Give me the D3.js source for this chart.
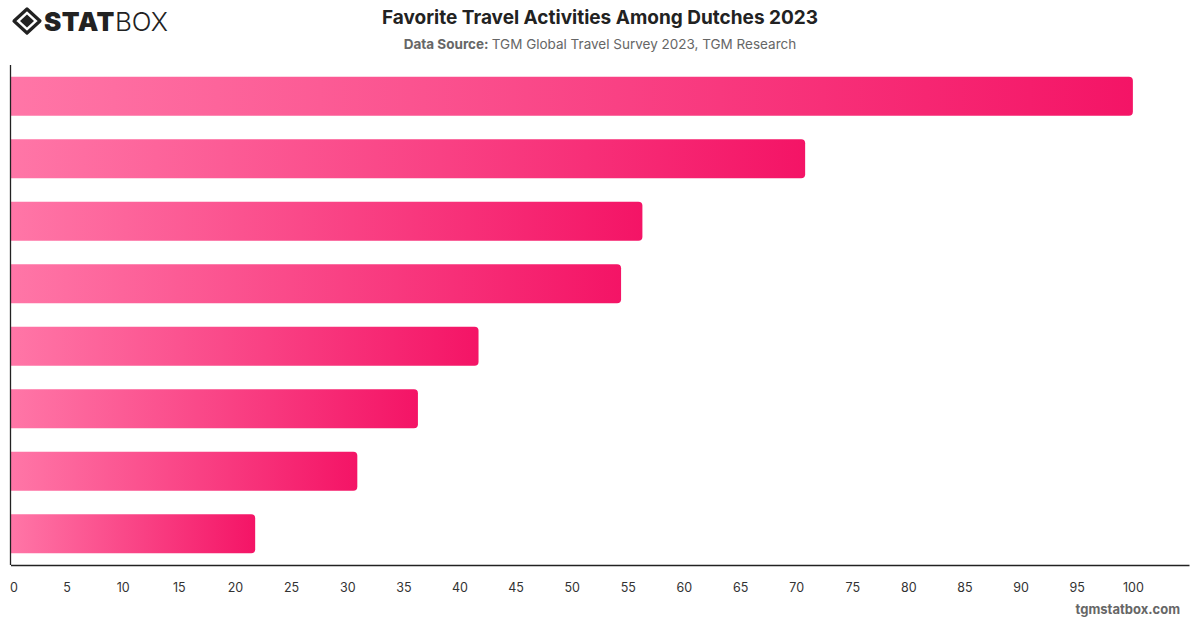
<!DOCTYPE html>
<html>
<head>
<meta charset="utf-8">
<script src="https://cdn.jsdelivr.net/npm/d3@7"></script>
<style>
  body { margin: 0; background: #fff; }
  svg { display: block; font-family: Inter, "Noto Sans", sans-serif; }
</style>
</head>
<body>
<svg id="chart" width="1200" height="628"></svg>
<script>
// values, top bar first
var activities = ['a1', 'a2', 'a3', 'a4', 'a5', 'a6', 'a7', 'a8'];
var shares = [100, 70.8, 56.3, 54.4, 41.7, 36.3, 30.9, 21.8];
var tickValues = [0, 5, 10, 15, 20, 25, 30, 35, 40, 45, 50, 55, 60, 65, 70, 75, 80, 85, 90, 95, 100];

var svg = d3.select('#chart');

var plotLeft = 10.5, plotRight = 1189, plotTop = 65, plotBottom = 565;

var x = d3.scaleLinear().domain([0, 105]).range([plotLeft, plotRight]);
var y = d3.scaleBand().domain(activities).range([plotTop, plotBottom])
  .paddingInner(0.376).paddingOuter(0.188);

var defs = svg.append('defs');
var grad = defs.append('linearGradient').attr('id', 'barGrad')
  .attr('x1', '0%').attr('x2', '100%').attr('y1', '0%').attr('y2', '0%');
grad.append('stop').attr('offset', '0%').attr('stop-color', '#ff76a7');
grad.append('stop').attr('offset', '100%').attr('stop-color', '#f41466');

// header
svg.append('text')
  .attr('x', 600).attr('y', 24)
  .attr('text-anchor', 'middle')
  .attr('font-size', 19).attr('font-weight', 700).attr('fill', '#222')
  .text('Favorite Travel Activities Among Dutches 2023');

var sub = svg.append('text')
  .attr('x', 600).attr('y', 49)
  .attr('text-anchor', 'middle')
  .attr('font-size', 13.5).attr('fill', '#666');
sub.append('tspan').attr('font-weight', 700).text('Data Source: ');
sub.append('tspan').text('TGM Global Travel Survey 2023, TGM Research');

// logo
var logo = svg.append('g').attr('transform', 'translate(27,21)');
logo.append('path')
  .attr('d', 'M0,-12 L13,0 L0,12 L-13,0 Z')
  .attr('fill', 'none').attr('stroke', '#222').attr('stroke-width', 3.2).attr('stroke-linejoin', 'round');
logo.append('path')
  .attr('d', 'M0,-6.5 L7,0 L0,6.5 L-7,0 Z')
  .attr('fill', '#222');
var logoText = svg.append('text').attr('x', 44).attr('y', 31).attr('font-size', 26).attr('fill', '#222');
logoText.append('tspan').attr('font-weight', 900).attr('letter-spacing', 0.5).text('STAT');
logoText.append('tspan').attr('font-weight', 300).text('BOX');

// bars
svg.append('g').selectAll('path')
  .data(shares)
  .join('path')
  .attr('fill', 'url(#barGrad)')
  .attr('d', function(d, i) {
    var x0 = x(0), x1 = x(d), y0 = y(activities[i]), h = y.bandwidth(), r = 4;
    return 'M' + x0 + ',' + y0 +
      'H' + (x1 - r) + 'Q' + x1 + ',' + y0 + ' ' + x1 + ',' + (y0 + r) +
      'V' + (y0 + h - r) + 'Q' + x1 + ',' + (y0 + h) + ' ' + (x1 - r) + ',' + (y0 + h) +
      'H' + x0 + 'Z';
  });

// axes
var xAxis = svg.append('g')
  .attr('transform', 'translate(0,' + plotBottom + ')')
  .call(d3.axisBottom(x).tickValues(tickValues).tickSize(0).tickPadding(18));
xAxis.select('.domain').attr('stroke', '#222').attr('stroke-width', 1.3);
xAxis.selectAll('text').attr('font-size', 12.5).attr('fill', '#333')
  .attr('font-family', 'Inter, sans-serif');
xAxis.selectAll('.tick').filter(function(d) { return d == 0; })
  .select('text').attr('dx', 3);

svg.append('line')
  .attr('x1', plotLeft).attr('x2', plotLeft).attr('y1', plotTop).attr('y2', plotBottom)
  .attr('stroke', '#222').attr('stroke-width', 1.3);

// footer
svg.append('text')
  .attr('x', 1180).attr('y', 614)
  .attr('text-anchor', 'end')
  .attr('font-size', 13).attr('font-weight', 700).attr('fill', '#666')
  .text('tgmstatbox.com');
</script>
</body>
</html>
